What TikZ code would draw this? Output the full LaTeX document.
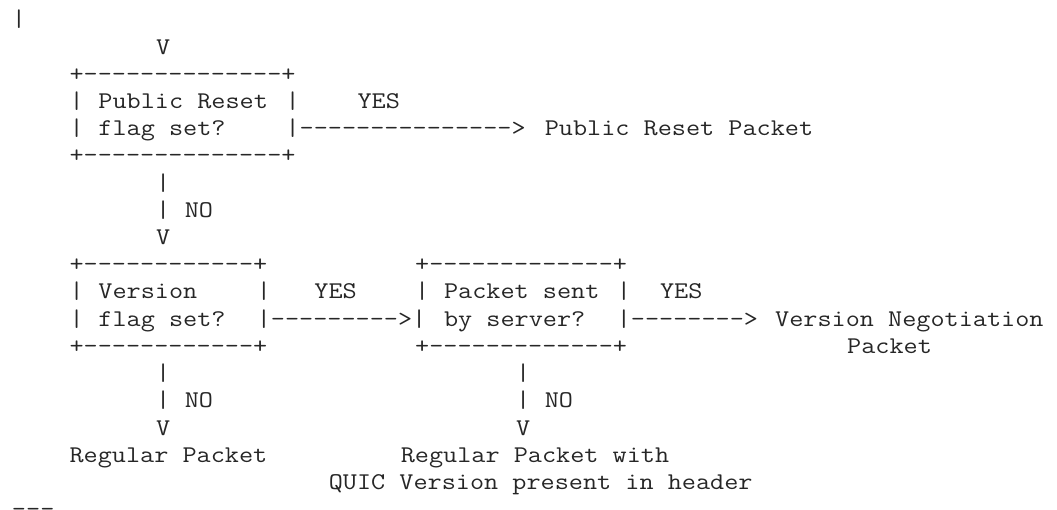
\documentclass[tikz,border=0pt]{standalone}
\usepackage{fontspec}
\newfontfamily\asciifont{Latin Modern Mono}[FakeStretch=1.1429,Ligatures=ResetAll]
\begin{document}
\begin{tikzpicture}[x=14.4pt,y=-27.2pt,
  txt/.style={anchor=base west,inner sep=0pt,outer sep=0pt,
    font=\asciifont\fontsize{24}{27.2}\selectfont,text=black!85}]
\useasboundingbox (-12pt,27pt) rectangle (1045pt,-483pt);
% row 0-1: incoming
\node[txt] (inbar) at (0,0) {|};
\node[txt] (inv) at (10,1) {V};
% Public Reset box
\node[txt] (prtop) at (4,2) {+--------------+};
\node[txt] (prl1) at (4,3) {|};
\node[txt] (prt1) at (6,3) {Public Reset};
\node[txt] (prr1) at (19,3) {|};
\node[txt] (pryes) at (24,3) {YES};
\node[txt] (prl2) at (4,4) {|};
\node[txt] (prt2) at (6,4) {flag set?};
\node[txt] (prarrow) at (19,4) {|--------------->};
\node[txt] (prout) at (37,4) {Public Reset Packet};
\node[txt] (prbot) at (4,5) {+--------------+};
% NO down
\node[txt] (no1a) at (10,6) {|};
\node[txt] (no1b) at (10,7) {|};
\node[txt] (no1t) at (12,7) {NO};
\node[txt] (no1v) at (10,8) {V};
% Version box and Packet sent box
\node[txt] (vtop) at (4,9) {+------------+};
\node[txt] (stop) at (28,9) {+-------------+};
\node[txt] (vl1) at (4,10) {|};
\node[txt] (vt1) at (6,10) {Version};
\node[txt] (vr1) at (17,10) {|};
\node[txt] (vyes) at (21,10) {YES};
\node[txt] (sl1) at (28,10) {|};
\node[txt] (st1) at (30,10) {Packet sent};
\node[txt] (sr1) at (42,10) {|};
\node[txt] (syes) at (45,10) {YES};
\node[txt] (vl2) at (4,11) {|};
\node[txt] (vt2) at (6,11) {flag set?};
\node[txt] (varrow) at (17,11) {|--------->|};
\node[txt] (st2) at (30,11) {by server?};
\node[txt] (sarrow) at (42,11) {|-------->};
\node[txt] (vn1) at (53,11) {Version Negotiation};
\node[txt] (vbot) at (4,12) {+------------+};
\node[txt] (sbot) at (28,12) {+-------------+};
\node[txt] (vn2) at (58,12) {Packet};
% NO branches
\node[txt] (no2a) at (10,13) {|};
\node[txt] (no3a) at (35,13) {|};
\node[txt] (no2b) at (10,14) {|};
\node[txt] (no2t) at (12,14) {NO};
\node[txt] (no3b) at (35,14) {|};
\node[txt] (no3t) at (37,14) {NO};
\node[txt] (no2v) at (10,15) {V};
\node[txt] (no3v) at (35,15) {V};
\node[txt] (reg1) at (4,16) {Regular Packet};
\node[txt] (reg2) at (27,16) {Regular Packet with};
\node[txt] (reg3) at (22,17) {QUIC Version present in header};
\node[txt] (tail) at (0,18) {---};
\end{tikzpicture}
\end{document}
